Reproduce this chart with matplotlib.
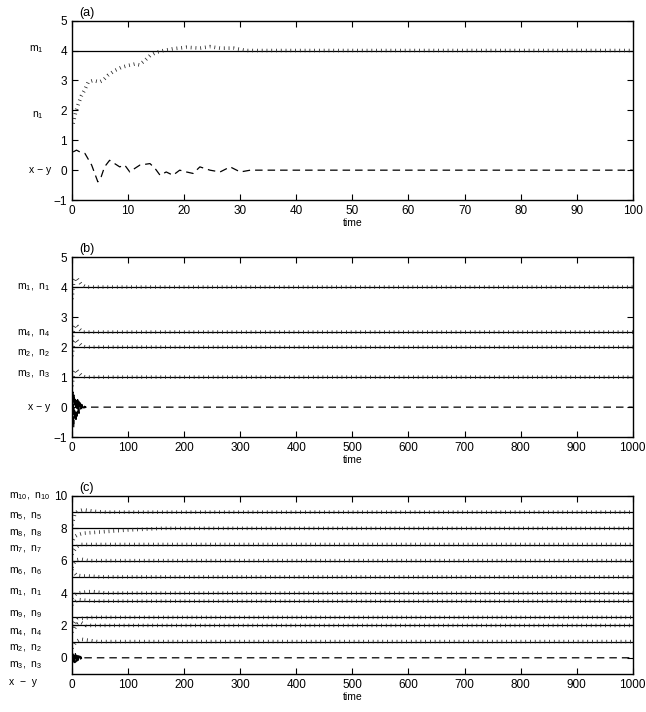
import matplotlib
matplotlib.use("Agg")
import matplotlib.pyplot as plt
import matplotlib.transforms as mtransforms

plt.rcParams["font.family"] = ["Liberation Sans", "DejaVu Sans"]
plt.rcParams["mathtext.fontset"] = "custom"
plt.rcParams["mathtext.rm"] = "Liberation Sans"
plt.rcParams["mathtext.default"] = "regular"
plt.rcParams["xtick.direction"] = "in"
plt.rcParams["ytick.direction"] = "in"
plt.rcParams["xtick.top"] = True
plt.rcParams["ytick.right"] = True

# ---------------- panel (a) data ----------------
a_m1 = 4.0
a_n1_t = [0.2, 0.6, 1.1, 1.7, 2.3, 2.9, 3.75, 4.9, 5.5, 6.4, 7.6, 8.8, 10, 11.2, 12,
          13, 13.9, 15, 16.3, 18, 20.4, 22.8, 24.6, 26.4, 28.8, 31.1, 35, 100]
a_n1 = [1.56, 1.9, 2.2, 2.5, 2.7, 2.95, 3.0, 2.95, 3.0, 3.17, 3.33, 3.44, 3.5, 3.55, 3.52,
        3.67, 3.83, 3.94, 4.0, 4.06, 4.11, 4.08, 4.13, 4.08, 4.08, 4.0, 4.0, 4.0]
a_xy_t = [0.2, 0.8, 1.4, 2.3, 3.5, 4.6, 5.2, 5.8, 6.7, 7.6, 8.5, 9.4, 10.3, 11.2, 12.1,
          13.9, 14.8, 15.7, 16.8, 18, 19.2, 20.4, 21.6, 22.8, 24.6, 26.4, 28.2, 30,
          31.8, 35, 100]
a_xy = [0.61, 0.67, 0.61, 0.56, 0.17, -0.39, -0.22, 0.11, 0.33, 0.22, 0.11, 0.17, -0.06,
        0.06, 0.17, 0.22, 0.06, -0.17, -0.06, -0.17, 0.0, -0.06, -0.11, 0.11, 0.0, -0.06,
        0.11, -0.06, 0.0, 0.0, 0.0]

# ---------------- panel (b) data ----------------
b_levels = [4.0, 2.5, 2.0, 1.0]
b_trans_t = [0, 3, 6, 9, 12, 16, 20, 25, 30, 1000]
b_n = [
    [3.6, 4.2, 4.3, 4.28, 4.2, 4.1, 4.05, 4.0, 4.0, 4.0],
    [2.2, 2.65, 2.75, 2.7, 2.62, 2.55, 2.5, 2.5, 2.5, 2.5],
    [1.7, 2.15, 2.25, 2.22, 2.15, 2.07, 2.02, 2.0, 2.0, 2.0],
    [0.7, 1.15, 1.25, 1.22, 1.15, 1.07, 1.02, 1.0, 1.0, 1.0],
]
b_xy_t = list(range(0, 31)) + [1000]
b_xy = [0.6, -0.5, 0.5, -0.7, 0.45, -0.45, 0.35, -0.5, 0.3, -0.3, 0.25, -0.2, 0.2, -0.2,
        0.15, -0.1, 0.1, -0.1, 0.08, -0.05, 0.05, -0.03, 0.03, -0.02, 0.02, -0.01, 0.01,
        0.0, 0.0, 0.0, 0.0, 0.0]
b_labels = ["m$_1$,  n$_1$", "m$_4$,  n$_4$", "m$_2$,  n$_2$", "m$_3$,  n$_3$", "x \u2212 y"]
b_label_y = [4.0, 2.45, 1.8, 1.1, 0.0]

# ---------------- panel (c) data ----------------
c_levels = [9, 8, 7, 6, 5, 4, 3.5, 2.5, 2, 1]
c_trans_t = [
    [0, 5, 10, 20, 30, 40, 60, 1000],
    [2, 5, 10, 20, 40, 60, 80, 100, 130, 160, 1000],
    [0, 3, 8, 15, 25, 1000],
    [0, 3, 8, 15, 30, 1000],
    [0, 3, 8, 20, 30, 50, 1000],
    [0, 5, 10, 20, 35, 60, 1000],
    [0, 5, 10, 25, 40, 1000],
    [0, 5, 10, 20, 38, 1000],
    [0, 5, 10, 15, 25, 1000],
    [0, 5, 10, 15, 30, 45, 1000],
]
c_n = [
    [8.2, 8.9, 9.05, 9.15, 9.1, 9.05, 9.0, 9.0],
    [7.3, 7.5, 7.6, 7.7, 7.75, 7.8, 7.85, 7.9, 7.95, 8.0, 8.0],
    [6.4, 6.6, 6.85, 7.0, 7.0, 7.0],
    [5.6, 5.85, 6.05, 6.1, 6.0, 6.0],
    [5.4, 5.3, 5.1, 5.05, 5.05, 5.0, 5.0],
    [3.7, 3.9, 4.0, 4.05, 4.1, 4.0, 4.0],
    [3.3, 3.45, 3.6, 3.55, 3.5, 3.5],
    [1.9, 2.2, 2.4, 2.45, 2.5, 2.5],
    [1.6, 1.85, 2.1, 2.2, 2.0, 2.0],
    [0.6, 0.9, 1.05, 1.15, 1.08, 1.0, 1.0],
]
c_xy_t = list(range(0, 26)) + [1000]
c_xy = [0.4, -0.35, 0.35, -0.4, 0.3, -0.3, 0.25, -0.3, 0.2, -0.2, 0.18, -0.15, 0.12,
        -0.12, 0.1, -0.08, 0.06, -0.05, 0.04, -0.03, 0.02, -0.01, 0.01, 0.0, 0.0, 0.0, 0.0]
c_labels = ["m$_{10}$,  n$_{10}$", "m$_5$,  n$_5$", "m$_8$,  n$_8$", "m$_7$,  n$_7$",
            "m$_6$,  n$_6$", "m$_1$,  n$_1$", "m$_9$,  n$_9$", "m$_4$,  n$_4$",
            "m$_2$,  n$_2$", "m$_3$,  n$_3$", "x  \u2212  y"]
c_label_y = [10, 8.73, 7.7, 6.7, 5.37, 4.04, 2.7, 1.6, 0.57, -0.45, -1.47]

# thick line with very short dashes -> little bars like the MATLAB dotted style
dot_style = dict(color="0.15", lw=2.6, linestyle=(0, (0.22, 1.1)), solid_capstyle="butt",
                 dash_capstyle="butt")
dash_style = dict(color="black", lw=0.9, linestyle=(0, (6, 4)))
solid_style = dict(color="black", lw=0.9)

fig = plt.figure(figsize=(6.46, 7.12), dpi=100)
ax_a = fig.add_axes([0.1115, 0.719, 0.868, 0.252])
ax_b = fig.add_axes([0.1115, 0.386, 0.868, 0.253])
ax_c = fig.add_axes([0.1115, 0.0534, 0.868, 0.25])


def style_axes(ax, letter):
    ax.tick_params(labelsize=8.5, length=4, width=0.8)
    for s in ax.spines.values():
        s.set_linewidth(1.0)
    ax.set_xlabel("time", fontsize=7.5, labelpad=1)
    ax.text(0.012, 1.01, letter, transform=ax.transAxes, fontsize=9, va="bottom")


# panel (a)
ax_a.axhline(a_m1, **solid_style)
ax_a.plot(a_n1_t, a_n1, **dot_style)
ax_a.plot(a_xy_t, a_xy, **dash_style)
ax_a.set_xlim(0, 100)
ax_a.set_ylim(-1, 5)
ax_a.set_xticks(range(0, 101, 10))
ax_a.set_yticks(range(-1, 6))
style_axes(ax_a, "(a)")
tr = mtransforms.blended_transform_factory(ax_a.transAxes, ax_a.transData)
ax_a.text(-0.05, 4.05, "m$_1$", transform=tr, ha="right", va="center", fontsize=7.5)
ax_a.text(-0.05, 1.85, "n$_1$", transform=tr, ha="right", va="center", fontsize=7.5)
ax_a.text(-0.037, 0.0, "x \u2212 y", transform=tr, ha="right", va="center", fontsize=7.5)

# panel (b)
for lev, n in zip(b_levels, b_n):
    ax_b.axhline(lev, **solid_style)
    ax_b.plot(b_trans_t, n, **dot_style)
ax_b.plot(b_xy_t, b_xy, **dash_style)
ax_b.set_xlim(0, 1000)
ax_b.set_ylim(-1, 5)
ax_b.set_xticks(range(0, 1001, 100))
ax_b.set_yticks(range(-1, 6))
style_axes(ax_b, "(b)")
tr = mtransforms.blended_transform_factory(ax_b.transAxes, ax_b.transData)
for lab, yy in zip(b_labels, b_label_y):
    ax_b.text(-0.038, yy, lab, transform=tr, ha="right", va="center", fontsize=7.5)

# panel (c)
for lev, t, n in zip(c_levels, c_trans_t, c_n):
    ax_c.axhline(lev, **solid_style)
    ax_c.plot(t, n, **dot_style)
ax_c.plot(c_xy_t, c_xy, **dash_style)
ax_c.set_xlim(0, 1000)
ax_c.set_ylim(-1, 10)
ax_c.set_xticks(range(0, 1001, 100))
ax_c.set_yticks(range(0, 11, 2))
style_axes(ax_c, "(c)")
tr = mtransforms.blended_transform_factory(ax_c.transAxes, ax_c.transData)
for lab, yy in zip(c_labels, c_label_y):
    ax_c.text(-0.113, yy, lab, transform=tr, ha="left", va="center", fontsize=7.5,
              clip_on=False)

fig.savefig("out.png", dpi=100)
